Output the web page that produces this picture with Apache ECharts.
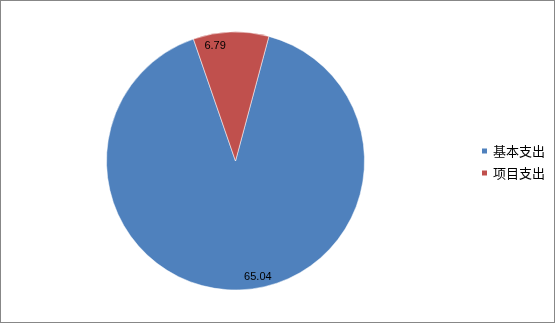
<!DOCTYPE html>
<html>
<head>
<meta charset="utf-8">
<script src="https://cdn.jsdelivr.net/npm/echarts@6/dist/echarts.min.js"></script>
<style>
html,body{margin:0;padding:0;background:#fff;}
#chart{position:absolute;left:0;top:0;width:555px;height:324px;}
#frame{position:absolute;left:0;top:0;width:555px;height:323px;box-sizing:border-box;border:1px solid #878787;pointer-events:none;}
</style>
</head>
<body>
<div id="chart"></div>
<div id="frame"></div>
<script>
var categories = ['基本支出', '项目支出'];
var values = [65.04, 6.79];
var colors = ['#4F81BD', '#C0504D'];
var labelOffsets = [[20, 49], [-18, -48]];

var chart = echarts.init(document.getElementById('chart'), null, {renderer: 'canvas'});
var data = categories.map(function (c, i) {
  return {
    name: c,
    value: values[i],
    itemStyle: {color: colors[i]},
    label: {offset: labelOffsets[i]}
  };
});
chart.setOption({
  animation: false,
  legend: {
    orient: 'vertical',
    left: 475,
    top: 'middle',
    itemWidth: 7,
    itemHeight: 7,
    itemGap: 9,
    icon: 'rect',
    textStyle: {fontFamily: 'Noto Sans CJK SC', fontSize: 13, color: '#000'},
    data: categories
  },
  series: [{
    type: 'pie',
    center: [235.5, 161],
    radius: [0, 129],
    startAngle: 75,
    clockwise: true,
    silent: true,
    itemStyle: {borderColor: '#ffffff', borderWidth: 0.5},
    label: {
      show: true,
      position: 'inside',
      formatter: function (p) { return p.value.toFixed(2); },
      fontFamily: 'Liberation Sans',
      fontSize: 11,
      color: '#000'
    },
    labelLine: {show: false},
    emphasis: {disabled: true},
    data: data
  }]
});
</script>
</body>
</html>
